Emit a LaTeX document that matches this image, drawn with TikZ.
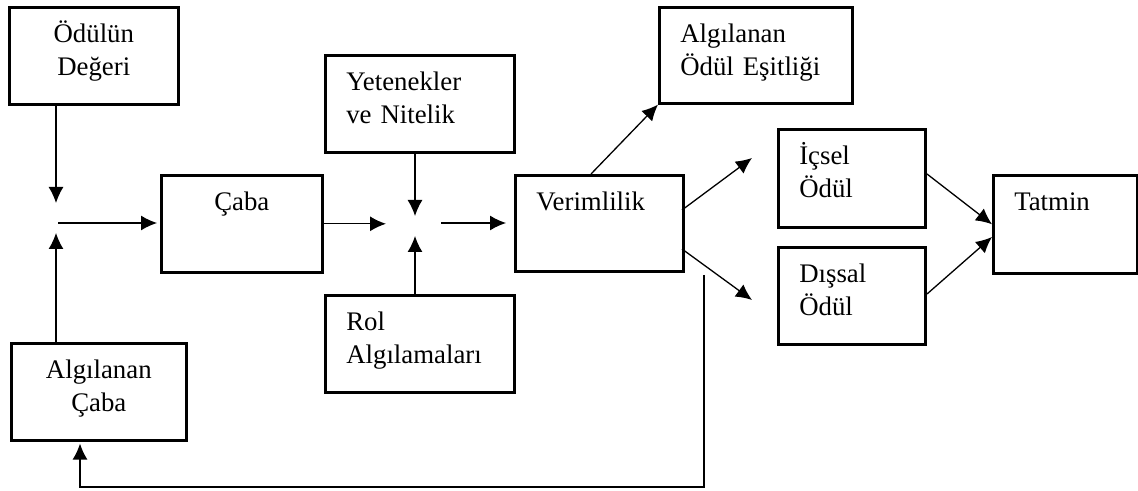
\documentclass[tikz,border=0pt]{standalone}
\usepackage{fontspec}
\setmainfont{Liberation Serif}
\usetikzlibrary{arrows.meta}
\tikzset{>={Latex[length=8pt,width=7.5pt]}}

\begin{document}
\begin{tikzpicture}[x=0.5pt, y=-0.5pt,
            box/.style={draw, line width=1.3pt, anchor=north west, inner ysep=0pt, text height=17.75pt, font=\fontsize{13.4pt}{16.5pt}\selectfont},
            cbox/.style={box, align=center, inner xsep=0pt},
            lbox/.style={box, align=left, inner xsep=10.5pt},
            link/.style={->, line width=0.65pt}
        ]
            \useasboundingbox (0,0) rectangle (1138,491);
            % boxes
            \node[cbox, text width=84.5pt, text depth=30.75pt] (odul) at (8,6) {Ödülün\\Değeri};
            \node[cbox, text width=80.5pt, text depth=30.75pt] (caba) at (160,174) {Çaba};
            \node[cbox, text width=87.5pt, text depth=30.75pt] (algcaba) at (10,342) {Algılanan\\Çaba};
            \node[lbox, text width=73.5pt, text depth=30.75pt] (yetenek) at (324,54) {Yetenekler\\ve Nitelik};
            \node[lbox, text width=73.5pt, text depth=30.75pt] (rol) at (324,294) {Rol\\Algılamaları};
            \node[lbox, text width=63pt, text depth=30.25pt] (verim) at (514,174) {Verimlilik};
            \node[lbox, text width=75.5pt, text depth=30.25pt] (esit) at (658,6) {Algılanan\\Ödül Eşitliği};
            \node[lbox, text width=52.5pt, text depth=31.25pt] (icsel) at (777,128) {İçsel\\Ödül};
            \node[lbox, text width=52.5pt, text depth=30.75pt] (dissal) at (777,246) {Dışsal\\Ödül};
            \node[lbox, text width=51pt, text depth=31.25pt] (tatmin) at (992,174) {Tatmin};
            % junction before Çaba
            \coordinate (jan) at (56,203);
            \coordinate (jas) at (56,233);
            \coordinate (jae) at (58,223);
            \draw[link] (jan |- odul.south) -- (jan);
            \draw[link] (jas |- algcaba.north) -- (jas);
            \draw[link, shorten >=1.5pt] (jae) -- (jae -| caba.west);
            % junction before Verimlilik
            \coordinate (jbn) at (415,216);
            \coordinate (jbs) at (415,236);
            \coordinate (jbw) at (386,223);
            \coordinate (jbe) at (441,223);
            \draw[link] (caba.east) -- (jbw |- caba.east);
            \draw[link] (jbn |- yetenek.south) -- (jbn);
            \draw[link] (jbs |- rol.north) -- (jbs);
            \draw[link, shorten >=4pt] (jbe) -- (jbe -| verim.west);
            % Verimlilik outputs
            \coordinate (va) at (591,174);
            \coordinate (vb) at (682,210);
            \coordinate (vc) at (682,249);
            \coordinate (icw) at (752,158);
            \coordinate (dsw) at (752,300);
            \draw[link] (va) -- (esit.south west);
            \draw[link] (vb) -- (icw);
            \draw[link] (vc) -- (dsw);
            % to Tatmin
            \coordinate (ice) at (927,174);
            \coordinate (dse) at (927,294);
            \coordinate (tw) at (992,237);
            \draw[link] (ice) -- (tatmin.west);
            \draw[link] (dse) -- (tw);
            % feedback
            \coordinate (fbs) at (704,275);
            \coordinate (fbe) at (80,487);
            \draw[link, shorten >=1pt] (fbs) |- (fbe) -- (fbe |- algcaba.south);
        \end{tikzpicture}
\end{document}
